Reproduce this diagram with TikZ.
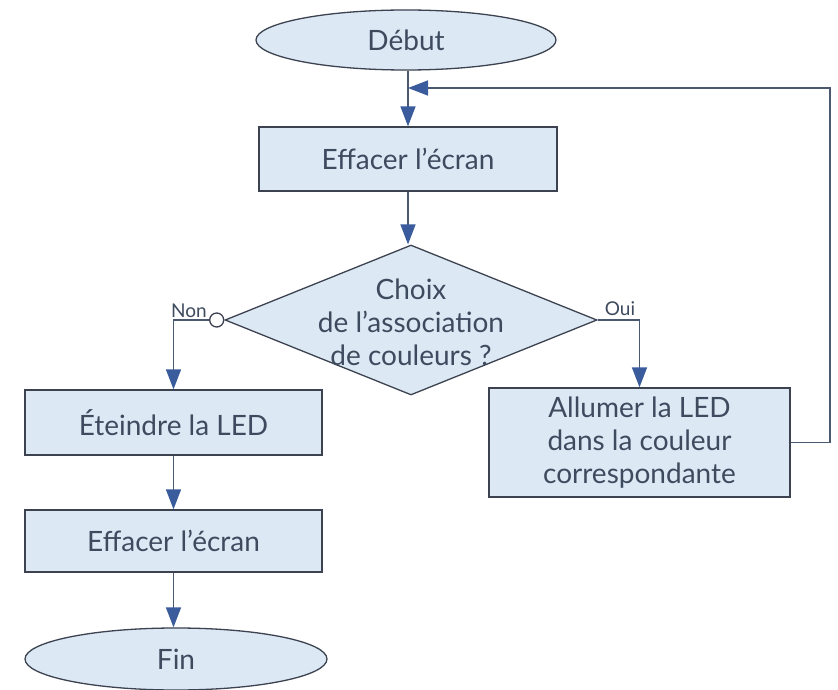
\documentclass[tikz,border=0pt]{standalone}
\usepackage{fontspec}
\setmainfont{Lato}
\usetikzlibrary{shapes.geometric,arrows.meta}
\definecolor{boxfill}{HTML}{DCE9F5}
\definecolor{edge}{HTML}{3C4250}
\definecolor{linec}{HTML}{4A5870}
\definecolor{arrblue}{HTML}{3A5C9C}
\definecolor{txtc}{HTML}{3E4A5E}
\tikzset{
  every node/.style={text=txtc, font=\fontsize{28}{33}\selectfont},
  procbox/.style={draw=edge, line width=1.3pt, fill=boxfill, rectangle, inner sep=0pt, align=center},
  term/.style={draw=edge, line width=1.3pt, fill=boxfill, ellipse, inner sep=0pt},
  flow/.style={draw=linec, line width=1.5pt, -{Triangle[length=20pt,width=15pt,color=arrblue]}},
  lbl/.style={font=\fontsize{19}{20}\selectfont, inner sep=1pt}
}
\begin{document}
\begin{tikzpicture}[x=1pt,y=-1pt]
\useasboundingbox[fill=white] (0,0) rectangle (838,690);
\node[term, minimum width=300pt, minimum height=60pt] (deb) at (406,40) {Début};
\node[procbox, minimum width=298pt, minimum height=64pt] (e1) at (408,159) {Effacer l’écran};
\node[diamond, draw=edge, line width=1.3pt, fill=boxfill, minimum width=372pt, minimum height=150pt, inner sep=0pt] (d) at (411,320) {};
\node[align=center, inner sep=0pt] (dt) at (411,322) {Choix\\de l’association\\de couleurs ?};
\node[circle, draw=edge, line width=1.3pt, fill=white, minimum size=14pt, inner sep=0pt, anchor=east] (nc) at (d.west) {};
\node[procbox, minimum width=297pt, minimum height=65pt] (et) at (173.5,422.5) {Éteindre la LED};
\node[procbox, minimum width=297pt, minimum height=62pt] (e2) at (173.5,541) {Effacer l’écran};
\node[term, minimum width=302pt, minimum height=62pt] (fin) at (176,659) {Fin};
\node[procbox, minimum width=301pt, minimum height=109pt] (al) at (639.5,442.5) {Allumer la LED\\dans la couleur\\correspondante};
\node[lbl, anchor=south] (non) at (189,319) {Non};
\node[lbl, anchor=south] (oui) at (620,317) {Oui};
\coordinate (rt) at (830,88);
\coordinate (jn) at (408,88);
\draw[flow] (deb.south -| e1.north) -- (e1.north);
\draw[flow] (e1.south) -- (d.north -| e1.south);
\draw[flow] (nc.west) -| (et.north);
\draw[flow] (d.east) -| (al.north);
\draw[flow] (al.east) -| (rt) -- (jn);
\draw[flow] (et.south) -- (e2.north);
\draw[flow] (e2.south) -- (fin.north -| e2.south);
\end{tikzpicture}
\end{document}
